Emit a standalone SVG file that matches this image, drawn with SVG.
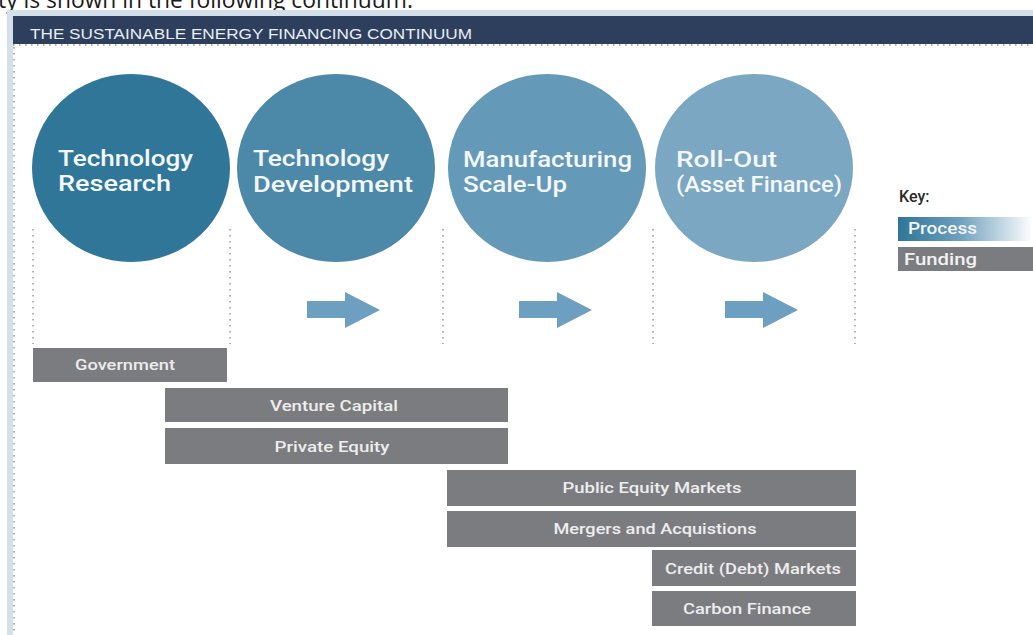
<svg xmlns="http://www.w3.org/2000/svg" width="1033" height="635" viewBox="0 0 1033 635">
<defs>
<style>
.circ{font-family:Roboto,"Liberation Sans",sans-serif;font-weight:500;font-size:22.5px;fill:#f4f7fa}
.bar{fill:#7b7c7f}
.bt{font-family:Roboto,"Liberation Sans",sans-serif;font-weight:500;font-size:15.5px;fill:#ededed;text-anchor:middle}
.dot{stroke:#9a9a9a;stroke-width:1.5;stroke-dasharray:1.5 4.5;fill:none}
.arr{fill:#6d9fc0}
</style>
<linearGradient id="procg" x1="0" y1="0" x2="1" y2="0">
<stop offset="0" stop-color="#2e7597"/>
<stop offset="0.45" stop-color="#6d9fbd"/>
<stop offset="1" stop-color="#ffffff"/>
</linearGradient>
</defs>
<rect x="0" y="0" width="1033" height="635" fill="#ffffff"/>
<text x="-2" y="8" font-family="'Open Sans','Liberation Sans',sans-serif" font-size="24" fill="#1a1a1a" textLength="415" lengthAdjust="spacingAndGlyphs">ty is shown in the following continuum:</text>
<rect x="7" y="10" width="1026" height="7" fill="#d3e0ea"/>
<rect x="7" y="10" width="6" height="625" fill="#d3e0ea"/>
<rect x="13" y="16" width="1020" height="28" fill="#2d3f5d"/>
<text x="30" y="38.5" font-family="'Liberation Sans',Arial,sans-serif" font-size="15.5" fill="#e8eef4" textLength="442" lengthAdjust="spacingAndGlyphs">THE SUSTAINABLE ENERGY FINANCING CONTINUUM</text>
<line x1="13" y1="45" x2="1033" y2="45" class="dot"/>
<line x1="14" y1="47" x2="14" y2="635" class="dot"/>

<g id="connectors">
<line x1="33" y1="229" x2="33" y2="344" class="dot"/>
<line x1="230" y1="229" x2="230" y2="344" class="dot"/>
<line x1="443" y1="229" x2="443" y2="344" class="dot"/>
<line x1="653" y1="229" x2="653" y2="344" class="dot"/>
<line x1="855" y1="229" x2="855" y2="344" class="dot"/>
<polygon class="arr" points="307,301 345,301 345,292 380,310 345,328 345,318 307,318"/>
<polygon class="arr" points="519,301 557,301 557,292 592,310 557,328 557,318 519,318"/>
<polygon class="arr" points="725,301 763,301 763,292 798,310 763,328 763,318 725,318"/>
</g>

<g id="tech-research">
<ellipse cx="131" cy="168" rx="99" ry="94" fill="#2f7698"/>
<text class="circ" x="58" y="166" textLength="135" lengthAdjust="spacingAndGlyphs">Technology</text>
<text class="circ" x="58" y="191" textLength="113" lengthAdjust="spacingAndGlyphs">Research</text>
</g>
<g id="tech-development">
<ellipse cx="336" cy="168" rx="99" ry="94" fill="#4c88a8"/>
<text class="circ" x="253" y="166" textLength="136" lengthAdjust="spacingAndGlyphs">Technology</text>
<text class="circ" x="253" y="192" textLength="160" lengthAdjust="spacingAndGlyphs">Development</text>
</g>
<g id="manufacturing">
<ellipse cx="547" cy="168" rx="99" ry="94" fill="#6499b8"/>
<text class="circ" x="463" y="166.5" textLength="169" lengthAdjust="spacingAndGlyphs">Manufacturing</text>
<text class="circ" x="463" y="191.5" textLength="104" lengthAdjust="spacingAndGlyphs">Scale-Up</text>
</g>
<g id="rollout">
<ellipse cx="754" cy="168" rx="99" ry="94" fill="#7ba7c2"/>
<text class="circ" x="676" y="166.5" textLength="101" lengthAdjust="spacingAndGlyphs">Roll-Out</text>
<text class="circ" x="676" y="191.5" textLength="166" lengthAdjust="spacingAndGlyphs">(Asset Finance)</text>
</g>

<g id="government"><rect class="bar" x="33" y="348" width="194" height="34"/><text class="bt" x="125" y="370" textLength="100" lengthAdjust="spacingAndGlyphs">Government</text></g>
<g id="venture-capital"><rect class="bar" x="165" y="388" width="343" height="34"/><text class="bt" x="334" y="411" textLength="128" lengthAdjust="spacingAndGlyphs">Venture Capital</text></g>
<g id="private-equity"><rect class="bar" x="165" y="428" width="343" height="36"/><text class="bt" x="332" y="452" textLength="115" lengthAdjust="spacingAndGlyphs">Private Equity</text></g>
<g id="public-equity"><rect class="bar" x="447" y="470" width="409" height="36"/><text class="bt" x="652" y="493" textLength="179" lengthAdjust="spacingAndGlyphs">Public Equity Markets</text></g>
<g id="mergers"><rect class="bar" x="447" y="511" width="409" height="36"/><text class="bt" x="655" y="534" textLength="203" lengthAdjust="spacingAndGlyphs">Mergers and Acquistions</text></g>
<g id="credit"><rect class="bar" x="652" y="550" width="204" height="36"/><text class="bt" x="753" y="574" textLength="176" lengthAdjust="spacingAndGlyphs">Credit (Debt) Markets</text></g>
<g id="carbon"><rect class="bar" x="652" y="591" width="204" height="35"/><text class="bt" x="747" y="614" textLength="128" lengthAdjust="spacingAndGlyphs">Carbon Finance</text></g>

<g id="key">
<text x="899" y="202" font-family="Roboto,'Liberation Sans',sans-serif" font-weight="500" font-size="16" fill="#2a2a2a">Key:</text>
<rect x="898" y="217" width="135" height="24" fill="url(#procg)"/>
<text x="908" y="234" font-family="Roboto,'Liberation Sans',sans-serif" font-weight="500" font-size="16" fill="#f2f5f8" textLength="69" lengthAdjust="spacingAndGlyphs">Process</text>
<rect x="898" y="247" width="135" height="24" fill="#7b7c7f"/>
<text x="904" y="265" font-family="Roboto,'Liberation Sans',sans-serif" font-weight="500" font-size="16" fill="#f2f2f2" textLength="73" lengthAdjust="spacingAndGlyphs">Funding</text>
</g>
</svg>
